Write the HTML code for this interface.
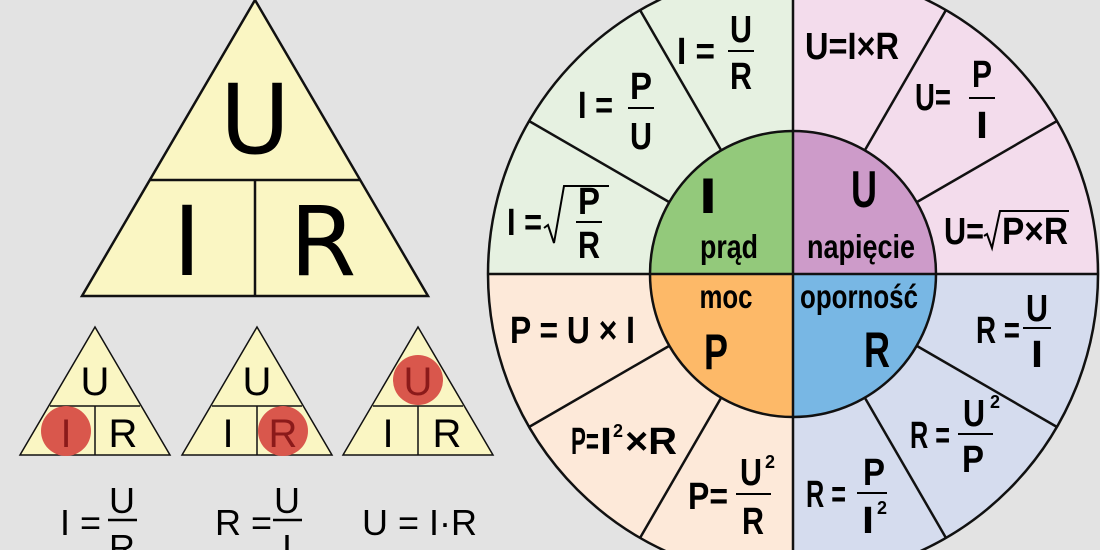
<!DOCTYPE html>
<html><head><meta charset="utf-8"><style>
html,body{margin:0;padding:0;background:#e3e3e3;width:1100px;height:550px;overflow:hidden;}
svg{display:block}
text{font-family:"Liberation Sans Narrow","Liberation Sans",sans-serif;}
.b{font-weight:bold;font-size:38px}
.r{font-family:"DejaVu Sans","Liberation Sans",sans-serif}
</style></head><body>
<svg width="1100" height="550" viewBox="0 0 1100 550" xmlns="http://www.w3.org/2000/svg">
<rect width="1100" height="550" fill="#e3e3e3"/>
<g stroke="#111" stroke-width="2.5" fill="#faf6c3">
<polygon points="255,0 428,296 82,296"/>
<line x1="149" y1="180" x2="361" y2="180"/>
<line x1="255" y1="180" x2="255" y2="296"/>
</g>
<g class="r" text-anchor="middle" fill="#000">
<text x="255" y="153" font-size="96" class="r">U</text>
<text x="187" y="275" font-size="96" class="r">I</text>
<text x="323" y="275" font-size="96" class="r">R</text>
</g>
<g stroke="#111" stroke-width="1.5" fill="#faf6c3">
<polygon points="95,327 170,455 20,455"/><line x1="50" y1="406" x2="140" y2="406"/><line x1="95" y1="406" x2="95" y2="455"/>
<polygon points="257,327 332,455 182,455"/><line x1="212" y1="406" x2="302" y2="406"/><line x1="257" y1="406" x2="257" y2="455"/>
<polygon points="418,327 493,455 343,455"/><line x1="373" y1="406" x2="463" y2="406"/><line x1="418" y1="406" x2="418" y2="455"/>
</g>
<g fill="#d9574c">
<circle cx="66" cy="431" r="25"/>
<circle cx="283" cy="431" r="25"/>
<circle cx="418" cy="380" r="25"/>
</g>
<g class="r" text-anchor="middle" font-size="40">
<text x="95" y="395" fill="#000">U</text>
<text x="66" y="447" fill="#8b1a1a">I</text>
<text x="123" y="447" fill="#000">R</text>
<text x="257" y="395" fill="#000">U</text>
<text x="228" y="447" fill="#000">I</text>
<text x="283" y="447" fill="#8b1a1a">R</text>
<text x="418" y="395" fill="#8b1a1a">U</text>
<text x="388" y="447" fill="#000">I</text>
<text x="447" y="447" fill="#000">R</text>
</g>
<g class="r" font-size="36" fill="#000">
<text x="60" y="535">I =</text>
<text x="122" y="513" text-anchor="middle">U</text>
<line x1="108" y1="520" x2="137" y2="520" stroke="#000" stroke-width="2.5"/>
<text x="122" y="560" text-anchor="middle">R</text>
<text x="215" y="535">R =</text>
<text x="287" y="513" text-anchor="middle">U</text>
<line x1="273" y1="520" x2="302" y2="520" stroke="#000" stroke-width="2.5"/>
<text x="287" y="560" text-anchor="middle">I</text>
<text x="362" y="535">U = I·R</text>
</g>
<defs><clipPath id="c"><circle cx="793" cy="274" r="305"/></clipPath></defs>
<g clip-path="url(#c)">
<rect x="480" y="-40" width="313" height="314" fill="#e6f1e1"/>
<rect x="793" y="-40" width="320" height="314" fill="#f3dcec"/>
<rect x="480" y="274" width="313" height="320" fill="#fde9d9"/>
<rect x="793" y="274" width="320" height="320" fill="#d5dcee"/>
</g>
<circle cx="793" cy="274" r="305" fill="none" stroke="#111" stroke-width="2.5"/>
<g stroke="#111" stroke-width="2.5">
<line x1="488" y1="274" x2="1098" y2="274"/>
<line x1="793" y1="-40" x2="793" y2="590"/>
<line x1="721" y1="150" x2="640" y2="10"/>
<line x1="669" y1="202" x2="529" y2="121"/>
<line x1="865" y1="150" x2="946" y2="10"/>
<line x1="917" y1="202" x2="1057" y2="121"/>
<line x1="669" y1="346" x2="529" y2="427"/>
<line x1="721" y1="398" x2="640" y2="538"/>
<line x1="917" y1="346" x2="1057" y2="427"/>
<line x1="865" y1="398" x2="946" y2="538"/>
</g>
<path d="M793,274 L650,274 A143,143 0 0 1 793,131 Z" fill="#93c97b"/>
<path d="M793,274 L793,131 A143,143 0 0 1 936,274 Z" fill="#cd9bc9"/>
<path d="M793,274 L793,417 A143,143 0 0 1 650,274 Z" fill="#fdb968"/>
<path d="M793,274 L936,274 A143,143 0 0 1 793,417 Z" fill="#78b7e4"/>
<circle cx="793" cy="274" r="143" fill="none" stroke="#111" stroke-width="2.5"/>
<line x1="650" y1="274" x2="936" y2="274" stroke="#111" stroke-width="2.5"/>
<line x1="793" y1="131" x2="793" y2="417" stroke="#111" stroke-width="2.5"/>
<g font-weight="bold" text-anchor="middle" fill="#000">
<text x="708" y="213" font-size="50" textLength="18" lengthAdjust="spacingAndGlyphs">I</text>
<text x="864" y="207" font-size="52" textLength="26" lengthAdjust="spacingAndGlyphs">U</text>
<text x="716" y="369" font-size="50" textLength="24" lengthAdjust="spacingAndGlyphs">P</text>
<text x="877" y="367" font-size="50" textLength="26" lengthAdjust="spacingAndGlyphs">R</text>
<g font-size="33">
<text x="729" y="258" textLength="58" lengthAdjust="spacingAndGlyphs">prąd</text>
<text x="861" y="258" textLength="108" lengthAdjust="spacingAndGlyphs">napięcie</text>
<text x="726" y="308" textLength="53" lengthAdjust="spacingAndGlyphs">moc</text>
<text x="859" y="308" textLength="118" lengthAdjust="spacingAndGlyphs">oporność</text>
</g>
</g>
<g class="b" fill="#000">
<text x="677" y="64" textLength="38" lengthAdjust="spacingAndGlyphs">I =</text>
<text x="741" y="42" text-anchor="middle" textLength="22" lengthAdjust="spacingAndGlyphs">U</text>
<line x1="728" y1="51" x2="754" y2="51" stroke="#000" stroke-width="2"/>
<text x="741" y="89" text-anchor="middle" textLength="22" lengthAdjust="spacingAndGlyphs">R</text>
<text x="578" y="118" textLength="35" lengthAdjust="spacingAndGlyphs">I =</text>
<text x="641" y="99" text-anchor="middle" textLength="22" lengthAdjust="spacingAndGlyphs">P</text>
<line x1="628" y1="108" x2="654" y2="108" stroke="#000" stroke-width="2"/>
<text x="641" y="149" text-anchor="middle" textLength="22" lengthAdjust="spacingAndGlyphs">U</text>
<text x="507" y="235" textLength="35" lengthAdjust="spacingAndGlyphs">I =</text>
<path d="M544,228 l4,-3 l6,18 l10,-57 h45" fill="none" stroke="#000" stroke-width="2"/>
<text x="589" y="214" text-anchor="middle" textLength="22" lengthAdjust="spacingAndGlyphs">P</text>
<line x1="576" y1="222" x2="602" y2="222" stroke="#000" stroke-width="2"/>
<text x="589" y="258" text-anchor="middle" textLength="22" lengthAdjust="spacingAndGlyphs">R</text>
<text x="805" y="59" textLength="94" lengthAdjust="spacingAndGlyphs">U=I×R</text>
<text x="915" y="110" textLength="36" lengthAdjust="spacingAndGlyphs">U=</text>
<text x="982" y="87" text-anchor="middle" textLength="20" lengthAdjust="spacingAndGlyphs">P</text>
<line x1="969" y1="98" x2="995" y2="98" stroke="#000" stroke-width="2"/>
<text x="982" y="138" text-anchor="middle" textLength="12" lengthAdjust="spacingAndGlyphs">I</text>
<text x="944" y="244" textLength="40" lengthAdjust="spacingAndGlyphs">U=</text>
<path d="M984,236 l3,-2 l5,14 l8,-37 h69" fill="none" stroke="#000" stroke-width="2"/>
<text x="1002" y="244" textLength="66" lengthAdjust="spacingAndGlyphs">P×R</text>
<text x="976" y="343" textLength="44" lengthAdjust="spacingAndGlyphs">R =</text>
<text x="1037" y="321" text-anchor="middle" textLength="22" lengthAdjust="spacingAndGlyphs">U</text>
<line x1="1023" y1="328" x2="1051" y2="328" stroke="#000" stroke-width="2"/>
<text x="1037" y="367" text-anchor="middle" textLength="12" lengthAdjust="spacingAndGlyphs">I</text>
<text x="910" y="448" textLength="40" lengthAdjust="spacingAndGlyphs">R =</text>
<text x="974" y="426" text-anchor="middle" textLength="22" lengthAdjust="spacingAndGlyphs">U</text>
<text x="990" y="408" font-size="18">2</text>
<line x1="958" y1="434" x2="993" y2="434" stroke="#000" stroke-width="2"/>
<text x="973" y="472" text-anchor="middle" textLength="22" lengthAdjust="spacingAndGlyphs">P</text>
<text x="806" y="507" textLength="40" lengthAdjust="spacingAndGlyphs">R =</text>
<text x="874" y="485" text-anchor="middle" textLength="22" lengthAdjust="spacingAndGlyphs">P</text>
<line x1="857" y1="493" x2="887" y2="493" stroke="#000" stroke-width="2"/>
<text x="868" y="533" text-anchor="middle" textLength="12" lengthAdjust="spacingAndGlyphs">I</text>
<text x="877" y="514" font-size="18">2</text>
<text x="510" y="343" textLength="125" lengthAdjust="spacingAndGlyphs">P =  U × I</text>
<text x="571" y="454" textLength="28" lengthAdjust="spacingAndGlyphs">P=</text>
<text x="600" y="454" textLength="12" lengthAdjust="spacingAndGlyphs">I</text>
<text x="613" y="437" font-size="18">2</text>
<text x="625" y="454" textLength="52" lengthAdjust="spacingAndGlyphs">×R</text>
<text x="688" y="509" textLength="40" lengthAdjust="spacingAndGlyphs">P=</text>
<text x="751" y="485" text-anchor="middle" textLength="22" lengthAdjust="spacingAndGlyphs">U</text>
<text x="765" y="468" font-size="18">2</text>
<line x1="736" y1="494" x2="771" y2="494" stroke="#000" stroke-width="2"/>
<text x="753" y="534" text-anchor="middle" textLength="22" lengthAdjust="spacingAndGlyphs">R</text>
</g>
</svg>
</body></html>
